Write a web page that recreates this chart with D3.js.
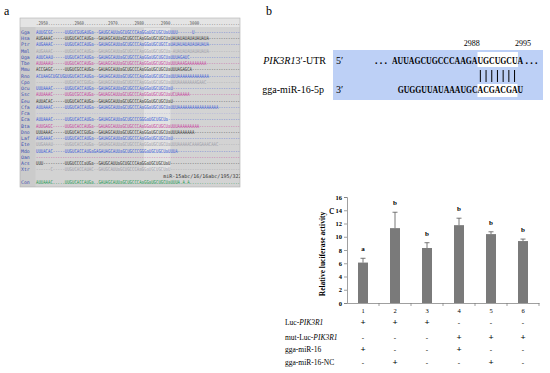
<!DOCTYPE html>
<html>
<head>
<meta charset="utf-8">
<script src="https://cdn.jsdelivr.net/npm/d3@7"></script>
<style>
  body { margin: 0; background: #fff; }
  svg { display: block; }
  text { font-family: "Liberation Serif", "Times New Roman", serif; fill: #000; }
  .mono { font-family: "DejaVu Sans Mono", monospace; }
</style>
</head>
<body>
<script>
// ---- panel a: alignment ----
var species = ["Gga", "Hsa", "Ptr", "Mml", "Oga", "Tbe", "Mmu", "Rno", "Cpo", "Ocu", "Ssc", "Eeu",
  "Cfa", "Fca", "Eca", "Bta", "Dno", "Laf", "Ete", "Mdo", "Oan", "Acs", "Xtr"];
var seqs = [
  "AUUGCGC-----UUGUCGUGAUGa--GAUGCAUUaGCUGCCCAaGGaUGCUGCUaUUUU------U",
  "AUGAAAC-----UUGUCACCAUGa--GAUAGCAUUaGCUGCCCAaGGaUGCUGCUaUAUAUAUAUAUAUAUA",
  "AUGAAAC-----UUGUCACCAUGa--GAUAGCAUUaGCUGCCCAaGGaUGCUGCCaUAUAUAUAUAUAUAUA",
  "AUGAAAC-----UUGUCACCAUGa--GAUAGCAUUaGCUGCCCAaGGaUGCUGCUa-AUAUAUAUAUAUAUA",
  "AUUCAAU-----UUGUCACCAUGa--GAUAGCAUUaGCUGCCCAaGGaUGCUGCUaUUUAGAUC",
  "AUUAAAU-----UUGUCACCAUGa--GAUAGCAUUaGCUGCCCAaGGaUGCUGCUaUUUAAAGAAAAAAAA",
  "ACCGAGC-----UUGUCGCCAUGa--GAUAGCAUUaGCUGCCCAaGGaUGCUGCUaUUUAGAGCA",
  "ACUAAGCUGCUGUUGUCACCAUGa--GAUAGCAUUaGCUGCCCAaGGaUGCUGCUaUUUAAAAAAAAAAAAA",
  "------------UUGUCACCGUGa--GAUAGCAUUaGCUGCCCAaGGaUGCUGCUaUUUAAAAAAAAGAAC",
  "UUUAAAC-----UUGUCACCAUGa--GAUAGCAUUaGCUGCCCAaGGaUGCUGCUaU",
  "AUUAAAC-----UUGUCGCCAUGa--GAUAGCAUUaGCUGCCCAaGGaUGCUGCUaUCUAAAAA",
  "AUUACAC-----UUGUCACCAUGa--GAUAGCAUUaGCUGCCCAaGGaUGCUGCUaU",
  "AUUAAAC-----UUGUCACCAUGa--GAUAGCAUUaGCUGCCCAaGGaUGCUGCUaUUUAAAAAAAAAAAAAAAAA",
  "",
  "AUUAAAC-----UUGUCACCAUGa--GAUAGCAUUaGCUGCCCGGGaUGCUGCUa",
  "AUUGAGC-----UUGUCACCAUGa--GAUAGCAUUaGCUGCCCAaGGaUGCUGCUaUUUAAAAAAAAA",
  "UUUAAAC-----UUGUCACCGUGa--GAUAGCAUUaGCUGCCCAaGGaUGCUGCUaUUUAAAAAAA",
  "AUGAAAC-----UUGUCACCAUGa--GAUAGCAUUaGCUGCCCAaGGaUGCUGCUaU",
  "UUGAAAU-----UUGUCACCAUGa--GAUAGCAUUaGCUGCCCAaGGaUGCUGCUaUUUAAAAACAAAGAAACAAC",
  "UUUACAC-----UUGUCACCAUGaGAGAUAGCAUUaGCUGCCCGGGaUGCUGCUaUUUA",
  "",
  "UUU---------UUGUCCCCaUGa--GAUGCAUUaGCUGCCCAaGGaUGCUGCUaU",
  "------C-----UUGUCACCAUAC--GAUGCAUUaGCUGCCCAaGGaUGCUGCUaU"
];
var seqGroups = ["blue", "dark", "blue", "grey", "blue", "pink", "dark", "blue", "grey", "blue", "pink", "dark",
  "blue", "lilac", "blue", "pink", "dark", "blue", "grey", "blue", "pink", "dark", "grey"];
var consensus = "AUUAAAC.....UUGUCACCAUGa..GAUAGCAUUaGCUGCCCAaGGaUGCUGCUaUUUA.A.A";
var mirFamily = "miR-15abc/16/16abc/195/322/424";
var rulerLabels = ["2950", "2960", "2970", "2980", "2990", "3000"];
var rulerCols = [5, 20, 34, 45, 56, 68];

// ---- panel b: binding site ----
var utrLabel = "PIK3R1";
var mirLabel = "gga-miR-16-5p";
var utrSeq = "AUUAGCUGCCCAAGAUGCUGCUA";
var mirSeq = "GUGGUUAUAAAUGCACGACGAU";
var seedStart = 15, seedEnd = 22;  // top index range of seed match
var sitePos = [{label: "2988", idx: 14}, {label: "2995", idx: 23}];

// ---- panel c: luciferase ----
var groups = ["1", "2", "3", "4", "5", "6"];
var activity = [6.1, 11.3, 8.3, 11.75, 10.4, 9.35];
var activityErr = [0.65, 2.4, 0.8, 1.05, 0.35, 0.3];
var sigLetters = ["a", "b", "b", "b", "b", "b"];
var yTicks = [0, 2, 4, 6, 8, 10, 12, 14, 16];
var conditions = [
  {pre: "Luc-", gene: "PIK3R1"},
  {pre: "mut-Luc-", gene: "PIK3R1"},
  {pre: "gga-miR-16", gene: ""},
  {pre: "gga-miR-16-NC", gene: ""}
];
var conditionSigns = [
  ["+", "+", "+", "-", "-", "-"],
  ["-", "-", "-", "+", "+", "+"],
  ["+", "-", "-", "+", "-", "-"],
  ["-", "+", "-", "-", "+", "-"]
];

var W = 550, H = 373;
var svg = d3.select("body").append("svg")
    .attr("width", W)
    .attr("height", H);

// ================= panel a =================
var seqColor = {blue: "#3a5ad8", dark: "#333", grey: "#a0a0aa", pink: "#c83c9c", lilac: "#9a9ae0"};
var nCols = 85;
var colX = d3.scaleLinear().domain([0, nCols]).range([36, 240]);
var rowY = d3.scaleLinear().domain([0, 24]).range([32, 182]);

svg.append("text")
    .attr("x", 4).attr("y", 15)
    .style("font-size", "12px")
    .text("a");

svg.append("clipPath").attr("id", "alnClip")
  .append("rect")
    .attr("x", 20).attr("y", 18).attr("width", 220).attr("height", 169);

var ga = svg.append("g").attr("clip-path", "url(#alnClip)");
ga.append("rect")
    .attr("x", 20).attr("y", 18).attr("width", 220).attr("height", 169)
    .attr("fill", "#d3d3d3");
ga.append("rect")
    .attr("x", 20).attr("y", 18).attr("width", 220).attr("height", 9)
    .attr("fill", "#e4e4e4");
ga.append("rect")
    .attr("x", 20).attr("y", 27).attr("width", 15.5).attr("height", 160)
    .attr("fill", "#cbcbcb");
// lighter band over the seed columns
ga.append("rect")
    .attr("x", colX(45)).attr("y", 28).attr("width", colX(56) - colX(45)).attr("height", 143)
    .attr("fill", "#fff").attr("opacity", 0.35);

// ruler
var ruler = d3.range(nCols).map(function() { return "."; });
rulerLabels.forEach(function(l, i) {
  for (var k = 0; k < 4; k++) ruler[rulerCols[i] - 4 + k] = l[k];
});
ga.append("text")
    .attr("class", "mono")
    .attr("x", colX(0)).attr("y", 25)
    .attr("textLength", colX(nCols) - colX(0))
    .attr("lengthAdjust", "spacingAndGlyphs")
    .style("font-size", "5px")
    .style("fill", "#555")
    .text(ruler.join(""));

function pad(s, ch) {
  while (s.length < nCols) s += ch;
  return s;
}

var rows = ga.selectAll("g.row")
    .data(species.map(function(sp, i) { return {name: sp, seq: seqs[i], grp: seqGroups[i], i: i}; }))
  .enter().append("g")
    .attr("class", "row");

rows.append("text")
    .attr("class", "mono")
    .attr("x", 21).attr("y", function(d) { return rowY(d.i) + 1.8; })
    .style("font-size", "4.8px")
    .style("fill", "#3d4fb0")
    .text(function(d) { return d.name; });

rows.append("text")
    .attr("class", "mono")
    .attr("x", colX(0)).attr("y", function(d) { return rowY(d.i) + 1.8; })
    .attr("textLength", colX(nCols) - colX(0))
    .attr("lengthAdjust", "spacingAndGlyphs")
    .style("font-size", "5.3px")
    .style("fill", function(d) { return seqColor[d.grp]; })
    .text(function(d) { return pad(d.seq, "-"); });

ga.append("text")
    .attr("class", "mono")
    .attr("x", colX(53)).attr("y", rowY(23) + 1.8)
    .style("font-size", "5px")
    .style("fill", "#333")
    .text(mirFamily);

ga.append("text")
    .attr("class", "mono")
    .attr("x", 21).attr("y", rowY(24) + 1.8)
    .style("font-size", "4.8px")
    .style("fill", "#3d4fb0")
    .text("Con");

ga.append("text")
    .attr("class", "mono")
    .attr("x", colX(0)).attr("y", rowY(24) + 1.8)
    .attr("textLength", colX(nCols) - colX(0))
    .attr("lengthAdjust", "spacingAndGlyphs")
    .style("font-size", "5.3px")
    .style("fill", "#1f9a52")
    .text(pad(consensus, "."));

svg.append("rect")
    .attr("x", 20).attr("y", 18).attr("width", 220).attr("height", 169)
    .attr("fill", "none").attr("stroke", "#b0b0b0").attr("stroke-width", 0.6);

// ================= panel b =================
svg.append("text")
    .attr("x", 266).attr("y", 15)
    .style("font-size", "12px")
    .text("b");

var charW = 5.7;
var topX = d3.scaleLinear().domain([0, 1]).range([392, 392 + charW]);
var botX = function(i) { return topX(i + 1); };  // miRNA is shifted one base right

var gb = svg.append("g");
gb.append("rect")
    .attr("x", 333).attr("y", 50).attr("width", 210).attr("height", 50)
    .attr("fill", "#bdd0f6");

gb.append("rect")
    .attr("x", topX(seedStart)).attr("y", 52).attr("width", topX(seedEnd + 0.1) - topX(seedStart)).attr("height", 15)
    .attr("fill", "#fff");
gb.append("rect")
    .attr("x", botX(seedStart - 1)).attr("y", 84).attr("width", topX(seedEnd) - topX(seedStart)).attr("height", 13)
    .attr("fill", "#fff");

var utrT = gb.append("text")
    .attr("x", 326).attr("y", 64)
    .attr("text-anchor", "end")
    .style("font-size", "10px");
utrT.append("tspan").style("font-style", "italic").text(utrLabel);
utrT.append("tspan").text("3\u2032-UTR");

gb.append("text")
    .attr("x", 324).attr("y", 93)
    .attr("text-anchor", "end")
    .style("font-size", "10px")
    .text(mirLabel);

gb.append("text").attr("x", 336).attr("y", 64).style("font-size", "10px").text("5\u2032");
gb.append("text").attr("x", 336).attr("y", 93).style("font-size", "10px").text("3\u2032");

gb.append("text")
    .attr("x", 375).attr("y", 64)
    .style("font-size", "10px").style("font-weight", "bold")
    .attr("letter-spacing", "2.2px")
    .text("...");
gb.append("text")
    .attr("x", topX(utrSeq.length) + 2.5).attr("y", 64)
    .style("font-size", "10px").style("font-weight", "bold")
    .attr("letter-spacing", "2.2px")
    .text("...");

gb.append("text")
    .attr("x", topX(0)).attr("y", 64)
    .attr("textLength", topX(utrSeq.length) - topX(0))
    .attr("lengthAdjust", "spacingAndGlyphs")
    .style("font-size", "9.5px").style("font-weight", "bold")
    .text(utrSeq);

gb.append("text")
    .attr("x", botX(0)).attr("y", 93)
    .attr("textLength", charW * mirSeq.length)
    .attr("lengthAdjust", "spacingAndGlyphs")
    .style("font-size", "9.5px").style("font-weight", "bold")
    .text(mirSeq);

gb.selectAll("line.pair")
    .data(d3.range(seedStart, seedEnd))
  .enter().append("line")
    .attr("class", "pair")
    .attr("x1", function(i) { return topX(i + 0.5); })
    .attr("x2", function(i) { return topX(i + 0.5); })
    .attr("y1", 70).attr("y2", 82)
    .attr("stroke", "#000").attr("stroke-width", 1);

gb.selectAll("text.pos")
    .data(sitePos)
  .enter().append("text")
    .attr("class", "pos")
    .attr("x", function(d) { return topX(d.idx); })
    .attr("y", 46)
    .attr("text-anchor", "middle")
    .style("font-size", "8px")
    .text(function(d) { return d.label; });

// ================= panel c =================
svg.append("text")
    .attr("x", 329).attr("y", 214)
    .style("font-size", "12px")
    .text("c");

var x = d3.scaleBand().domain(groups).range([347, 539]);
var y = d3.scaleLinear().domain([0, 16]).range([303, 197]);
var barW = 10;

var gc = svg.append("g");

var yAxis = gc.append("g")
    .attr("transform", "translate(347,0)")
    .call(d3.axisLeft(y).tickValues(yTicks).tickSize(3).tickPadding(2));
yAxis.selectAll("text")
    .style("font-size", "6.5px").style("font-weight", "bold")
    .style("font-family", "Liberation Serif, serif");
yAxis.selectAll("line, path").attr("stroke", "#777").attr("stroke-width", 0.7);

var xAxis = gc.append("g")
    .attr("transform", "translate(0,303)")
    .call(d3.axisBottom(x).tickSize(0).tickPadding(5));
xAxis.selectAll("text")
    .style("font-size", "6.5px")
    .style("font-family", "Liberation Serif, serif");
xAxis.select("path").attr("stroke", "#777").attr("stroke-width", 0.7);

gc.selectAll("line.btick")
    .data(groups)
  .enter().append("line")
    .attr("class", "btick")
    .attr("x1", function(d) { return x(d) + x.bandwidth(); })
    .attr("x2", function(d) { return x(d) + x.bandwidth(); })
    .attr("y1", 303).attr("y2", 306)
    .attr("stroke", "#777").attr("stroke-width", 0.7);

gc.selectAll("rect.bar")
    .data(groups)
  .enter().append("rect")
    .attr("class", "bar")
    .attr("x", function(d) { return x(d) + x.bandwidth() / 2 - barW / 2; })
    .attr("y", function(d, i) { return y(activity[i]); })
    .attr("width", barW)
    .attr("height", function(d, i) { return y(0) - y(activity[i]); })
    .attr("fill", "#7a7a7a");

var err = gc.selectAll("g.err")
    .data(groups)
  .enter().append("g")
    .attr("class", "err");
err.append("line")
    .attr("x1", function(d) { return x(d) + x.bandwidth() / 2; })
    .attr("x2", function(d) { return x(d) + x.bandwidth() / 2; })
    .attr("y1", function(d, i) { return y(activity[i]); })
    .attr("y2", function(d, i) { return y(activity[i] + activityErr[i]); })
    .attr("stroke", "#555").attr("stroke-width", 0.8);
err.append("line")
    .attr("x1", function(d) { return x(d) + x.bandwidth() / 2 - 2.5; })
    .attr("x2", function(d) { return x(d) + x.bandwidth() / 2 + 2.5; })
    .attr("y1", function(d, i) { return y(activity[i] + activityErr[i]); })
    .attr("y2", function(d, i) { return y(activity[i] + activityErr[i]); })
    .attr("stroke", "#555").attr("stroke-width", 0.8);

gc.selectAll("text.sig")
    .data(groups)
  .enter().append("text")
    .attr("class", "sig")
    .attr("x", function(d) { return x(d) + x.bandwidth() / 2; })
    .attr("y", function(d, i) { return y(activity[i] + activityErr[i]) - 7; })
    .attr("text-anchor", "middle")
    .style("font-size", "7px").style("font-weight", "bold")
    .text(function(d, i) { return sigLetters[i]; });

gc.append("text")
    .attr("transform", "translate(325,254)rotate(-90)")
    .attr("text-anchor", "middle")
    .style("font-size", "7.5px").style("font-weight", "bold")
    .text("Relative luciferase activity");

var rowBase = [325, 340, 352, 365];

var labels = gc.selectAll("text.cond")
    .data(conditions)
  .enter().append("text")
    .attr("class", "cond")
    .attr("x", 285)
    .attr("y", function(d, i) { return rowBase[i]; })
    .style("font-size", "7.5px");
labels.append("tspan").text(function(d) { return d.pre; });
labels.append("tspan").style("font-style", "italic").text(function(d) { return d.gene; });

conditionSigns.forEach(function(row, r) {
  gc.selectAll("text.sign" + r)
      .data(row)
    .enter().append("text")
      .attr("class", "sign" + r)
      .attr("x", function(d, i) { return x(groups[i]) + x.bandwidth() / 2; })
      .attr("y", rowBase[r])
      .attr("text-anchor", "middle")
      .style("font-size", function(d) { return d === "+" ? "9px" : "7px"; })
      .style("font-weight", "bold")
      .text(function(d) { return d; });
});
</script>
</body>
</html>
